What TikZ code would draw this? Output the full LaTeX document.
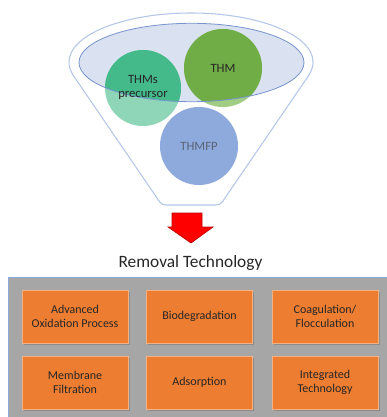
\documentclass[tikz,border=0pt]{standalone}
\usepackage{fontspec}
\setmainfont{Carlito}
\definecolor{funnelline}{RGB}{180,199,231}
\definecolor{rimfill}{RGB}{218,225,241}
\definecolor{rimline}{RGB}{120,148,206}
\definecolor{precdark}{RGB}{68,185,138}
\definecolor{preclight}{RGB}{143,214,185}
\definecolor{thmdark}{RGB}{112,173,71}
\definecolor{thmlight}{RGB}{160,204,132}
\definecolor{thmfpblue}{RGB}{142,169,219}
\definecolor{panelgray}{RGB}{166,166,166}
\definecolor{panelline}{RGB}{143,170,220}
\definecolor{techorange}{RGB}{237,125,49}
\definecolor{techline}{RGB}{244,177,131}
\definecolor{arrowred}{RGB}{255,0,0}
\definecolor{arrowline}{RGB}{192,0,0}
\tikzset{every picture/.style={line width=0.75pt}}
\tikzset{
  funnel/.style={draw=funnelline, line width=0.8pt, fill=white},
  bubble/.style={circle, minimum size=58pt, inner sep=0pt, align=center, font=\fontsize{9.5}{10.5}\selectfont},
  techbox/.style={draw=techline, line width=0.5pt, fill=techorange, minimum width=79.5pt, minimum height=39.75pt, align=center, text=black!85, font=\fontsize{9}{11}\selectfont},
  boxshadow/.style={fill=black!45, draw=none, minimum width=79.5pt, minimum height=39.75pt}
}
\begin{document}
\begin{tikzpicture}[x=0.75pt,y=0.75pt,yscale=-1,xscale=1]
\useasboundingbox (0,0) rectangle (386,417);

% funnel
\draw [funnel] (166,205) .. controls (161,205) and (159,201) .. (157,198) -- (73,75) .. controls (70,70) and (69,66) .. (69,62) arc [start angle=180, end angle=360, x radius=122, y radius=49] .. controls (313,66) and (312,70) .. (309,75) -- (225,198) .. controls (223,201) and (221,205) .. (216,205) -- cycle;
\fill [rimfill] (191.5,62.5) ellipse [x radius=112.5, y radius=39.2];

% circles, lighter where outside the rim
\fill [preclight] (143,88) circle [radius=38];
\fill [thmlight] (223,68) circle [radius=39];
\fill [thmfpblue] (199,146) circle [radius=39];
\begin{scope}
\clip (191.5,62.5) ellipse [x radius=112.5, y radius=39.2];
\fill [precdark] (143,88) circle [radius=38];
\fill [thmdark] (223,68) circle [radius=39];
\end{scope}
\draw [rimline, line width=0.6pt] (191.5,62.5) ellipse [x radius=112.5, y radius=39.2];

\node [bubble, text=black!85] (prec) at (143,87.5) {THMs\\precursor};
\node [bubble, text=black!85] (thm) at (223,68) {THM};
\node [bubble, text={rgb,255:red,90;green,100;blue,120}] (thmfp) at (199,146) {THMFP};

% arrow
\draw [arrowline, fill=arrowred, line width=0.5pt] (172,213) -- (202,213) -- (202,227) -- (213,227) -- (191,243) -- (168,227) -- (172,227) -- cycle;

\node [font=\fontsize{13}{15}\selectfont, text=black!85] (title) at (190.5,263) {Removal Technology};

% panel
\draw [panelline, fill=panelgray] (8,277) rectangle (392,423);

\node [boxshadow] at (76.5,318) {};
\node [boxshadow] at (201,318) {};
\node [boxshadow] at (326.5,318) {};
\node [boxshadow] at (76.5,384) {};
\node [boxshadow] at (201,384) {};
\node [boxshadow] at (326.5,384) {};

\node [techbox] (aop) at (75,316.5) {Advanced\\Oxidation Process};
\node [techbox] (bio) at (199.5,316.5) {Biodegradation};
\node [techbox] (coag) at (325,316.5) {Coagulation/\\Flocculation};
\node [techbox] (memb) at (75,382.5) {Membrane\\Filtration};
\node [techbox] (ads) at (199.5,382.5) {Adsorption};
\node [techbox] (integ) at (325,382.5) {Integrated\\Technology};

\end{tikzpicture}
\end{document}
